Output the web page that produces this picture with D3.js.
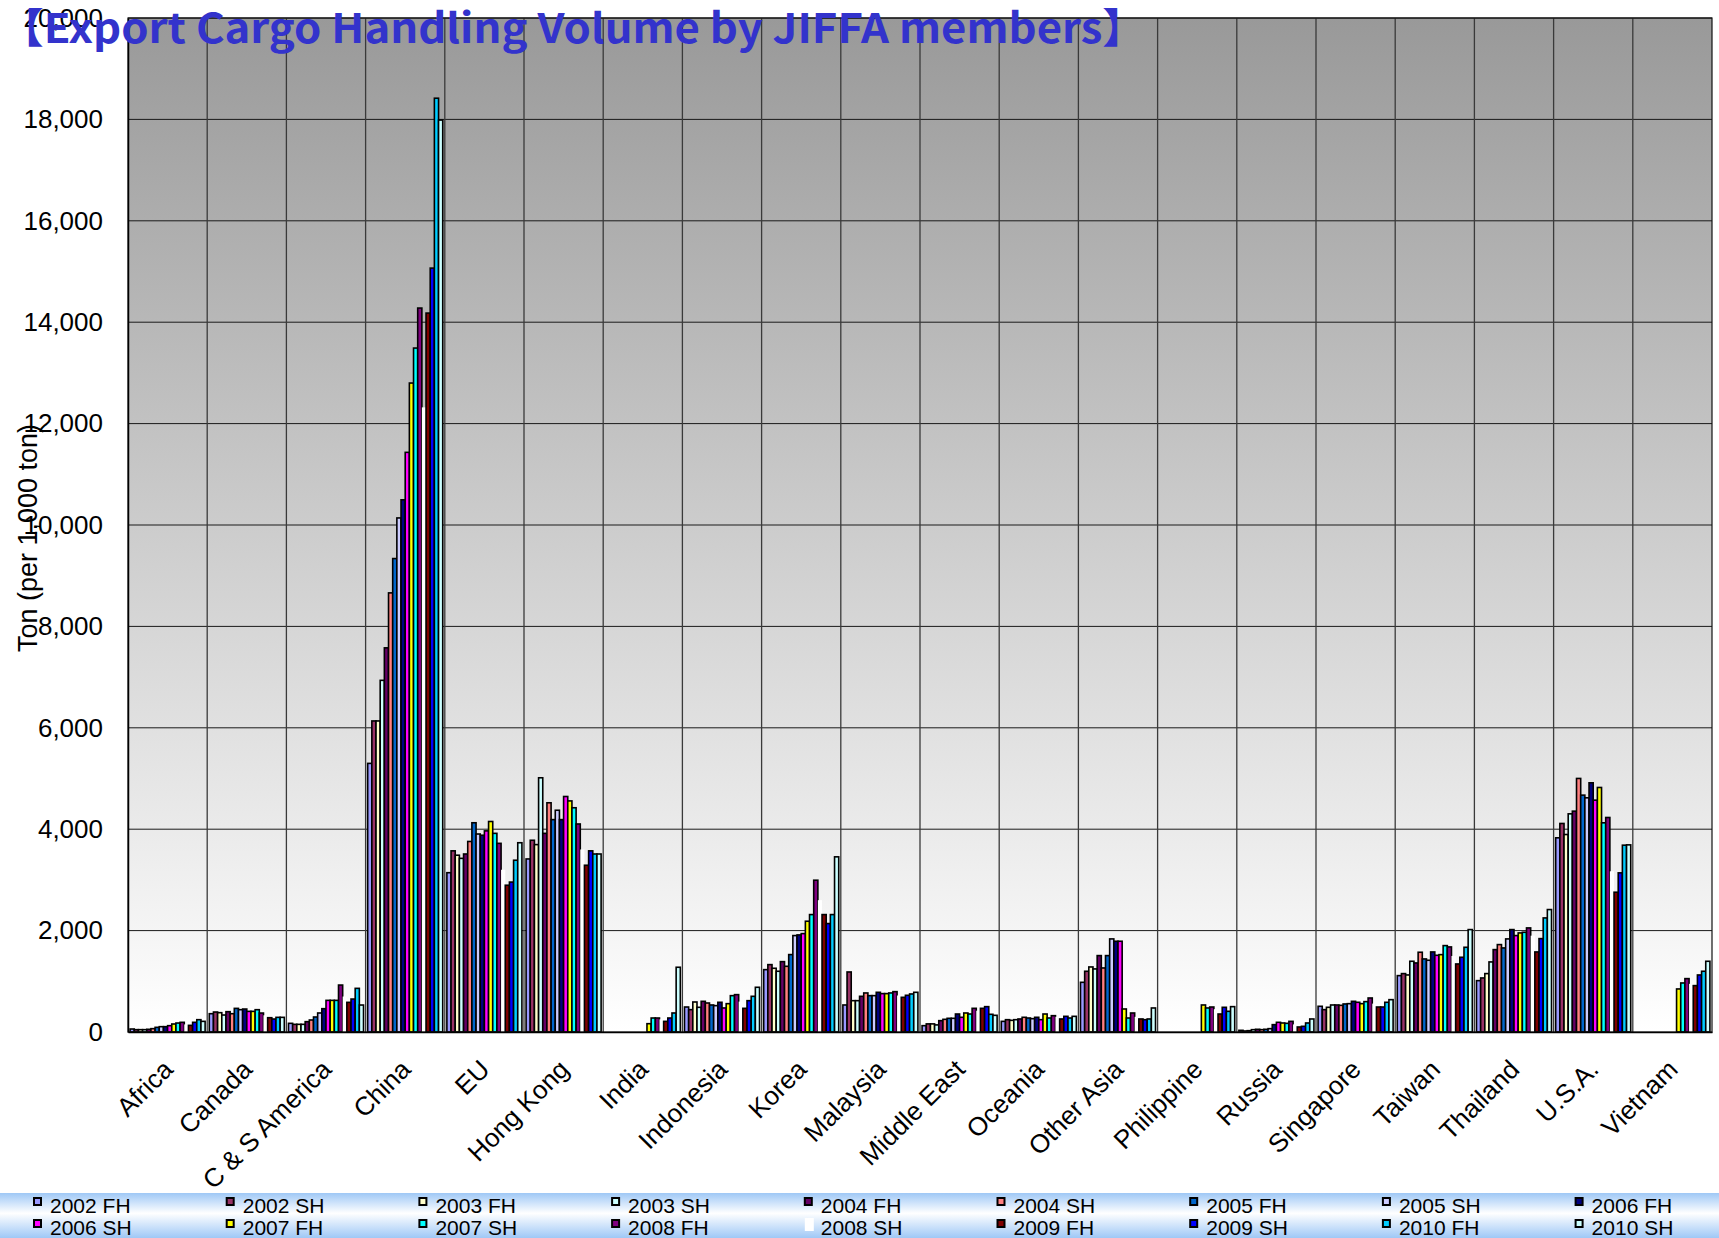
<!DOCTYPE html>
<html>
<head>
<meta charset="utf-8">
<title>Export Cargo Handling Volume by JIFFA members</title>
<style>
  body { margin: 0; background: #fff; }
  text { font-family: "Liberation Sans", Arial, sans-serif; }
</style>
</head>
<body>
<script src="https://cdn.jsdelivr.net/npm/d3@7"></script>
<script>

// categories (destinations)
var categories = ["Africa", "Canada", "C & S America", "China", "EU", "Hong Kong", "India",
  "Indonesia", "Korea", "Malaysia", "Middle East", "Oceania", "Other Asia", "Philippine",
  "Russia", "Singapore", "Taiwan", "Thailand", "U.S.A.", "Vietnam"];

// half years (series)
var seriesNames = ["2002 FH", "2002 SH", "2003 FH", "2003 SH", "2004 FH", "2004 SH",
  "2005 FH", "2005 SH", "2006 FH", "2006 SH", "2007 FH", "2007 SH", "2008 FH", "2008 SH",
  "2009 FH", "2009 SH", "2010 FH", "2010 SH"];

// values per destination, one per half year, in 1,000 ton (null = no data)
var africa     = [59, 46, 46, 46, 53, 66, 92, 105, 105, 125, 158, 177, 191, 150, 131, 191, 243, 210];
var canada     = [361, 394, 381, 335, 401, 361, 466, 440, 453, 407, 407, 440, 374, 330, 282, 256, 289, 289];
var csAmerica  = [171, 151, 151, 151, 204, 237, 296, 375, 460, 624, 624, 624, 926, 700, 585, 650, 861, 532];
var china      = [5298, 6135, 6135, 6936, 7577, 8661, 9338, 10139, 10497, 11433, 12800, 13490, 14279, 12320, 14180, 15067, 18418, 17987];
var eu         = [3142, 3573, 3487, 3425, 3511, 3758, 4127, 3905, 3881, 3967, 4152, 3918, 3721, 3200, 2895, 2957, 3388, 3733];
var hongKong   = [3413, 3782, 3696, 5014, 3918, 4521, 4189, 4374, 4189, 4645, 4558, 4423, 4103, 3600, 3289, 3573, 3511, 3511];
var india      = [null, null, null, null, null, null, null, null, null, null, 164, 276, 276, 250, 210, 276, 375, 1277];
var indonesia  = [493, 441, 592, 487, 605, 572, 533, 520, 586, 474, 559, 717, 737, 600, 467, 618, 704, 882];
var korea      = [1230, 1329, 1257, 1198, 1388, 1296, 1527, 1902, 1915, 1941, 2185, 2316, 2994, 2600, 2316, 2139, 2316, 3455];
var malaysia   = [533, 1184, 618, 618, 704, 770, 717, 717, 783, 757, 757, 770, 796, 720, 684, 724, 750, 783];
var middleEast = [125, 160, 160, 140, 224, 250, 270, 270, 355, 290, 375, 355, 467, 420, 467, 500, 349, 329];
var oceania    = [210, 243, 230, 243, 257, 290, 276, 263, 290, 243, 355, 276, 322, 300, 257, 309, 276, 309];
var otherAsia  = [980, 1198, 1283, 1244, 1507, 1263, 1507, 1836, 1790, 1790, 454, 276, 375, 300, 257, 243, 257, 474];
var philippine = [null, null, null, null, null, null, null, null, null, null, 533, 474, 493, 450, 355, 487, 408, 500];
var russia     = [33, 20, 26, 46, 53, 46, 53, 66, 145, 191, 178, 171, 210, 150, 99, 112, 178, 257];
var singapore  = [507, 441, 487, 533, 533, 526, 553, 559, 605, 586, 559, 599, 671, 560, 493, 493, 586, 638];
var taiwan     = [1112, 1152, 1125, 1395, 1362, 1573, 1441, 1415, 1579, 1513, 1526, 1704, 1678, 1500, 1342, 1474, 1671, 2020];
var thailand   = [1013, 1066, 1152, 1382, 1625, 1724, 1658, 1836, 2020, 1902, 1954, 1967, 2053, 1900, 1579, 1842, 2250, 2415];
var usa        = [3830, 4113, 3895, 4303, 4356, 5001, 4672, 4619, 4915, 4573, 4823, 4126, 4231, 3170, 2757, 3139, 3685, 3691];
var vietnam    = [null, null, null, null, null, null, null, null, null, null, 849, 967, 1053, 950, 915, 1125, 1198, 1395];

var rows = [africa, canada, csAmerica, china, eu, hongKong, india, indonesia, korea, malaysia,
  middleEast, oceania, otherAsia, philippine, russia, singapore, taiwan, thailand, usa, vietnam];

var yTicks = [0, 2000, 4000, 6000, 8000, 10000, 12000, 14000, 16000, 18000, 20000];

// excel-ish palette, one per series
var colors = ["#9999ff", "#993366", "#ffffcc", "#ccffff", "#660066", "#ff8080", "#0066cc",
  "#ccccff", "#000080", "#ff00ff", "#ffff00", "#00ffff", "#800080", "#ffffff", "#800000",
  "#0000ff", "#00ccff", "#ccffff"];

var W = 1719, H = 1238;
var m = {l: 128, r: 1712, t: 18, b: 1032};

var svg = d3.select("body").append("svg")
  .attr("width", W).attr("height", H);

var defs = svg.append("defs");
var g1 = defs.append("linearGradient").attr("id", "plotBg")
  .attr("x1", 0).attr("y1", 0).attr("x2", 0).attr("y2", 1);
g1.append("stop").attr("offset", "0%").attr("stop-color", "#999999");
g1.append("stop").attr("offset", "100%").attr("stop-color", "#ffffff");

var g2 = defs.append("linearGradient").attr("id", "legBg")
  .attr("x1", 0).attr("y1", 0).attr("x2", 0).attr("y2", 1);
g2.append("stop").attr("offset", "0%").attr("stop-color", "#9fc8f6");
g2.append("stop").attr("offset", "45%").attr("stop-color", "#ffffff");
g2.append("stop").attr("offset", "100%").attr("stop-color", "#9fc8f6");

// scales
var x0 = d3.scaleBand().domain(categories).range([m.l, m.r]).padding(0);
var x1 = d3.scaleBand().domain(seriesNames).range([0, x0.bandwidth()])
  .paddingInner(0).paddingOuter(0.5);
var y = d3.scaleLinear().domain([0, 20000]).range([m.b, m.t]);

// plot background
svg.append("rect")
  .attr("x", m.l).attr("y", m.t)
  .attr("width", m.r - m.l).attr("height", m.b - m.t)
  .attr("fill", "url(#plotBg)");

// horizontal grid
svg.append("g").selectAll("line")
  .data(yTicks.slice(1))
  .enter().append("line")
    .attr("x1", m.l).attr("x2", m.r)
    .attr("y1", function(d) { return y(d); })
    .attr("y2", function(d) { return y(d); })
    .attr("stroke", "#1a1a1a").attr("stroke-width", 1);

// vertical grid at category edges
svg.append("g").selectAll("line")
  .data(categories.slice(1))
  .enter().append("line")
    .attr("x1", function(d) { return x0(d); })
    .attr("x2", function(d) { return x0(d); })
    .attr("y1", m.t).attr("y2", m.b)
    .attr("stroke", "#3a3a3a").attr("stroke-width", 1.3);

// bars
var groups = svg.append("g").selectAll("g")
  .data(categories)
  .enter().append("g")
    .attr("transform", function(d) { return "translate(" + x0(d) + ",0)"; });

groups.selectAll("rect")
  .data(function(c, ci) {
    return seriesNames.map(function(s, si) {
      return {s: s, si: si, v: rows[ci][si]};
    }).filter(function(d) { return d.v != null; });
  })
  .enter().append("rect")
    .attr("x", function(d) { return x1(d.s); })
    .attr("y", function(d) { return y(d.v); })
    .attr("width", x1.bandwidth())
    .attr("height", function(d) { return y(0) - y(d.v); })
    .attr("fill", function(d) { return colors[d.si]; })
    .attr("stroke", function(d) { return d.si == 13 ? "none" : "#000"; })
    .attr("stroke-width", 1.6);

// plot frame
svg.append("rect")
  .attr("x", m.l).attr("y", m.t)
  .attr("width", m.r - m.l).attr("height", m.b - m.t)
  .attr("fill", "none").attr("stroke", "#111").attr("stroke-width", 1.2);

// y axis
var yAxis = d3.axisLeft(y).tickValues(yTicks).tickFormat(d3.format(",")).tickSize(0).tickPadding(25);
var ya = svg.append("g").attr("transform", "translate(" + m.l + ",0)").call(yAxis);
ya.select(".domain").attr("stroke", "#000").attr("stroke-width", 1.5);
ya.selectAll("text")
  .style("font-family", "'Liberation Sans', Arial, sans-serif")
  .style("font-size", "26px").attr("fill", "#000");

// x axis
var xAxis = d3.axisBottom(x0).tickSize(0).tickPadding(0);
var xa = svg.append("g").attr("transform", "translate(0," + m.b + ")").call(xAxis);
xa.select(".domain").attr("stroke", "#000").attr("stroke-width", 1.5);
xa.selectAll("text")
  .style("font-family", "'Liberation Sans', Arial, sans-serif")
  .style("font-size", "26px").attr("fill", "#000")
  .attr("dy", null).attr("y", 0)
  .style("text-anchor", "end")
  .attr("transform", "translate(7,39) rotate(-45)");

// y axis label
svg.append("text")
  .attr("transform", "translate(37,538) rotate(-90)")
  .style("text-anchor", "middle")
  .style("font-size", "27px")
  .text("Ton (per 1,000 ton)");

// legend band
svg.append("rect")
  .attr("x", 0).attr("y", 1193).attr("width", W).attr("height", H - 1193)
  .attr("fill", "url(#legBg)");

var leg = svg.append("g").selectAll("g")
  .data(seriesNames)
  .enter().append("g")
    .attr("transform", function(d, i) {
      return "translate(" + (34 + 192.7 * (i % 9)) + "," + (i < 9 ? 1198 : 1220) + ")";
    });
leg.append("rect")
  .attr("width", function(d, i) { return i == 13 ? 9 : 7; })
  .attr("height", function(d, i) { return i == 13 ? 13 : 7; })
  .attr("y", function(d, i) { return i == 13 ? -2 : 0; })
  .attr("fill", function(d, i) { return colors[i]; })
  .attr("stroke", function(d, i) { return i == 13 ? "none" : "#000"; })
  .attr("stroke-width", 2);
leg.append("text")
  .attr("x", 16).attr("y", 15)
  .style("font-size", "21px")
  .text(function(d) { return d; });

// title
svg.append("text")
  .attr("x", 0).attr("y", 43)
  .attr("textLength", 1146).attr("lengthAdjust", "spacingAndGlyphs")
  .style("font-family", "'Noto Sans CJK JP', sans-serif")
  .style("font-weight", "bold")
  .style("font-size", "41px")
  .attr("fill", "#3333cc")
  .text("【Export Cargo Handling Volume by JIFFA members】");

</script>
</body>
</html>
